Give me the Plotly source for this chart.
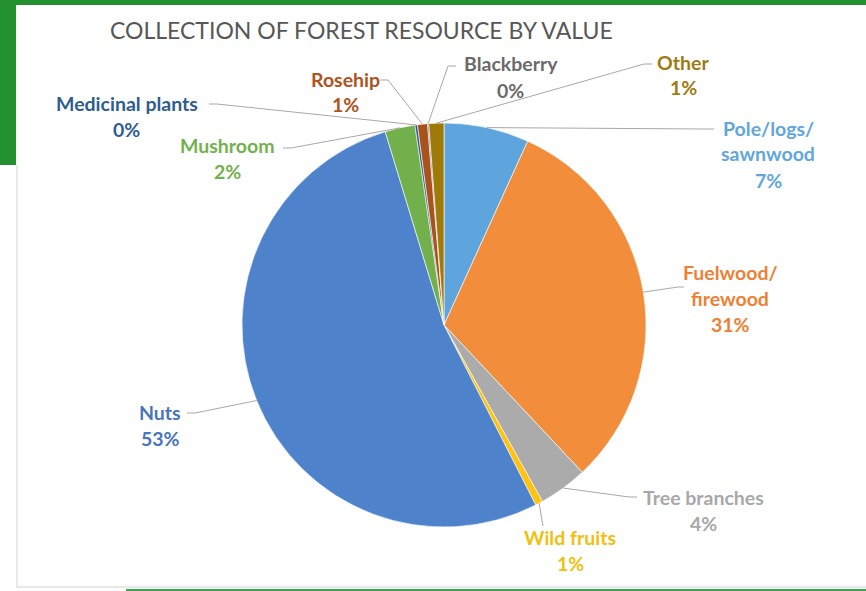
import math
import plotly.graph_objects as go

# ---------------- data ----------------
categories = ["Pole/logs/sawnwood", "Fuelwood/firewood", "Tree branches", "Wild fruits",
              "Nuts", "Mushroom", "Medicinal plants", "Rosehip", "Blackberry", "Other"]
values = [6.8, 31.2, 3.9, 0.6, 52.8, 2.4, 0.2, 0.8, 0.1, 1.2]
label_lines = [["Pole/logs/", "sawnwood"], ["Fuelwood/", "firewood"], ["Tree branches"],
               ["Wild fruits"], ["Nuts"], ["Mushroom"], ["Medicinal plants"], ["Rosehip"],
               ["Blackberry"], ["Other"]]

# ---------------- style ----------------
slice_colors = ["#5EA5DE", "#F18D3B", "#ABABAB", "#FFC20E", "#4E83CC",
                "#72B04B", "#2A5C92", "#A9531C", "#666666", "#9E7A08"]
text_colors = ["#62A6DC", "#EE8034", "#A8A8A8", "#F0C010", "#4775BE",
               "#73B14F", "#2F5D8E", "#AE5420", "#6A6A6A", "#9C7C10"]

W, H = 866, 591
CX, CY, R = 444, 325, 202          # pie centre / radius in pixels

# label layout: (centre x, first line y, leader anchor x, anchor y, elbow dx)
label_pos = {
    "Pole/logs/sawnwood": (768, 128, 714, 129, -8),
    "Fuelwood/firewood": (730, 272, 684, 287, -6),
    "Tree branches": (703, 497, 637, 497, -8),
    "Wild fruits": (570, 537, 543, 526, 0),
    "Nuts": (160, 412, 187, 413, 8),
    "Mushroom": (227, 145, 283, 148, 8),
    "Medicinal plants": (127, 103, 209, 104, 8),
    "Rosehip": (345, 79, 380, 80, 8),
    "Blackberry": (511, 64, 456, 66, -8),
    "Other": (683, 62, 652, 64, -8),
}
LINE_STEP = 26
FONT = "Lato"
LABEL_SIZE = 19.5


def px(x, y):
    return x / W, 1 - y / H


fig = go.Figure()
fig.add_trace(go.Pie(
    labels=categories, values=values, sort=False, direction="clockwise", rotation=0,
    marker=dict(colors=slice_colors, line=dict(color="white", width=0.6)),
    textinfo="none", hoverinfo="label+percent", showlegend=False,
    domain=dict(x=[(CX - R) / W, (CX + R) / W], y=[1 - (CY + R) / H, 1 - (CY - R) / H]),
))

shapes = []
annotations = []

# background decoration
shapes.append(dict(type="rect", xref="paper", yref="paper", x0=0, x1=1,
                   y0=1 - 5 / H, y1=1, fillcolor="#23912F", line_width=0, layer="below"))
shapes.append(dict(type="rect", xref="paper", yref="paper", x0=0, x1=16 / W,
                   y0=1 - 165 / H, y1=1, fillcolor="#23912F", line_width=0, layer="below"))
shapes.append(dict(type="line", xref="paper", yref="paper", x0=17 / W, x1=17 / W,
                   y0=1 - 588 / H, y1=1 - 165 / H, line=dict(color="#E2E2E2", width=1.5)))
shapes.append(dict(type="line", xref="paper", yref="paper", x0=17 / W, x1=1,
                   y0=1 - 587 / H, y1=1 - 587 / H, line=dict(color="#E2E2E2", width=1.5)))
shapes.append(dict(type="rect", xref="paper", yref="paper", x0=126 / W, x1=1,
                   y0=0, y1=1 - 589 / H, fillcolor="#3CA84C", line_width=0))

# title
tx, ty = px(361, 30)
annotations.append(dict(text="COLLECTION OF FOREST RESOURCE BY VALUE", x=tx, y=ty,
                        xref="paper", yref="paper", showarrow=False,
                        font=dict(family=FONT, size=23, color="#575757"),
                        xanchor="center", yanchor="middle"))

total = sum(values)
cum = 0.0
for cat, val, lines, tcol in zip(categories, values, label_lines, text_colors):
    mid = (cum + val / 2) / total
    cum += val
    ang = math.pi / 2 - 2 * math.pi * mid
    ex, ey = CX + R * math.cos(ang), CY - R * math.sin(ang)
    lx, ly, ax, ay, edx = label_pos[cat]
    pct = f"{round(val / total * 100):.0f}%"
    for i, t in enumerate(lines + [pct]):
        x, y = px(lx, ly + i * LINE_STEP)
        annotations.append(dict(text=t, x=x, y=y, xref="paper", yref="paper",
                                showarrow=False, xanchor="center", yanchor="middle",
                                font=dict(family=FONT, size=LABEL_SIZE, color=tcol, weight="bold")))
    p0 = px(ax, ay)
    p1 = px(ax + edx, ay)
    p2 = px(ex, ey)
    shapes.append(dict(type="path", xref="paper", yref="paper",
                       path=f"M {p0[0]},{p0[1]} L {p1[0]},{p1[1]} L {p2[0]},{p2[1]}",
                       line=dict(color="#A8A8A8", width=1)))

fig.update_layout(
    width=W, height=H, margin=dict(l=0, r=0, t=0, b=0),
    paper_bgcolor="white", plot_bgcolor="white",
    shapes=shapes, annotations=annotations,
)
fig.write_html("out.html", config={"displayModeBar": False},
               post_script="document.body.style.margin='0';document.body.style.overflow='hidden';")
